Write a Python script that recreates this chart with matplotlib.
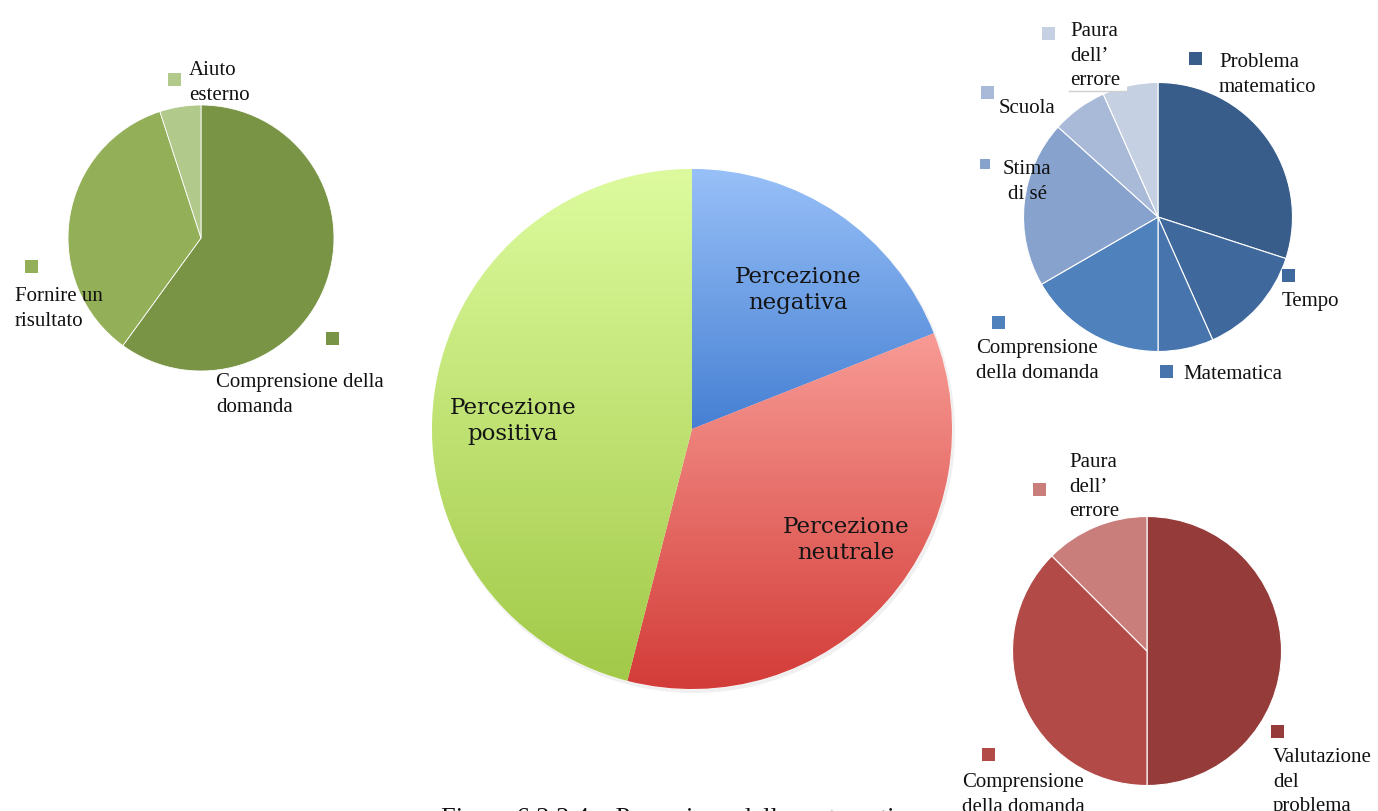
import numpy as np
import matplotlib
matplotlib.use('Agg')
import matplotlib.pyplot as plt
from matplotlib.colors import LinearSegmentedColormap
from matplotlib.patches import Rectangle, Circle

W, H = 1378, 812

# left pie (green)
green_labels = ['Comprensione della\ndomanda', 'Fornire un\nrisultato', 'Aiuto\nesterno']
green_values = [12, 7, 1]
green_colors = ['#7a9445', '#93af57', '#b1ca8b']

# central pie
mid_labels = ['Percezione\nnegativa', 'Percezione\nneutrale', 'Percezione\npositiva']
mid_values = [19, 35, 46]
mid_top = ['#98c0f8', '#f89b95', '#ddfb9e']
mid_bottom = ['#4680d3', '#d33c38', '#a2c948']

# top right pie (blue)
blue_labels = ['Problema\nmatematico', 'Tempo', 'Matematica', 'Comprensione\ndella domanda',
               'Stima\ndi sé', 'Scuola', 'Paura\ndell\u2019\nerrore']
blue_values = [9, 4, 2, 5, 6, 2, 2]
blue_colors = ['#385d8a', '#3f699d', '#4774ad', '#4f81bd', '#87a2cc', '#a9b9d8', '#c5d0e3']

# bottom right pie (red)
red_labels = ['Valutazione\ndel\nproblema', 'Comprensione\ndella domanda', 'Paura\ndell\u2019\nerrore']
red_values = [8, 6, 2]
red_colors = ['#953b39', '#b24b48', '#c97e7c']

caption = 'Figura 6.2.3.4 \u2013 Percezione della matematica'

SERIF = 'Liberation Serif'
FS = 15            # legend text size in pt
FS_PX = FS * 100 / 72


def py(y):
    # pixel row (from top) -> data y
    return H - y


fig = plt.figure(figsize=(W / 100, H / 100), dpi=100)
ax = fig.add_axes([0, 0, 1, 1])


def draw_pie(values, colors, cx, cy, r, lw=0.8):
    wedges, _ = ax.pie(values, colors=colors, startangle=90, counterclock=False,
                       center=(cx, py(cy)), radius=r,
                       wedgeprops=dict(edgecolor='white', linewidth=lw))
    return wedges


def key(text, color, sq, tx, base, size=13, ha='left', ls=1.42):
    x0, y0 = sq
    ax.add_patch(Rectangle((x0, py(y0 + size)), size, size, facecolor=color,
                           edgecolor='none', zorder=3))
    ax.text(tx, py(base - 0.69 * FS_PX), text, ha=ha, va='top', multialignment=ha,
            fontsize=FS, family=SERIF, color='#111111', linespacing=ls, zorder=4)


# green pie
draw_pie(green_values, green_colors, 201, 239, 133, lw=0.6)
key(green_labels[0], green_colors[0], (326, 333), 216, 387)
key(green_labels[1], green_colors[1], (25, 261), 15, 301)
key(green_labels[2], green_colors[2], (168, 74), 189, 75)

# central pie with vertical gradients
ax.add_patch(Circle((694, py(433)), 261, facecolor='#000000', alpha=0.06,
                    edgecolor='none', zorder=0.5))
mid_wedges = draw_pie(mid_values, mid_top, 692, 430, 260, lw=0.5)
grad = np.linspace(0, 1, 256).reshape(-1, 1)
for w, c_top, c_bot in zip(mid_wedges, mid_top, mid_bottom):
    bb = w.get_path().get_extents()
    cmap = LinearSegmentedColormap.from_list('grad', [c_bot, c_top])
    im = ax.imshow(grad, cmap=cmap, origin='lower', aspect='auto',
                   extent=(bb.x0, bb.x1, bb.y0, bb.y1), zorder=1.5)
    im.set_clip_path(w)

mid_pos = [(798, 283), (846, 533), (513, 414)]
for lab, (tx, base) in zip(mid_labels, mid_pos):
    ax.text(tx, py(base - 0.74 * 16.5 * 100 / 72), lab, ha='center', va='top',
            multialignment='center', fontsize=16.5, family='DejaVu Serif',
            color='#141414', linespacing=1.25, zorder=4)

# blue pie
draw_pie(blue_values, blue_colors, 1158, 218, 134.5)
ax.add_patch(Rectangle((1069, py(92)), 58, 10, facecolor='white', edgecolor='none', zorder=2.5))
ax.plot([1069, 1127], [py(92), py(92)], color='#cfcfcf', lw=1, zorder=2.6)
key(blue_labels[0], blue_colors[0], (1189, 53), 1219, 67)
key(blue_labels[1], blue_colors[1], (1282, 270), 1282, 306)
key(blue_labels[2], blue_colors[2], (1160, 366), 1183, 379)
key(blue_labels[3], blue_colors[3], (992, 317), 976, 353)
key(blue_labels[4], blue_colors[4], (980, 160), 1027, 174, size=10, ha='center')
key(blue_labels[5], blue_colors[5], (981, 87), 999, 113)
key(blue_labels[6], blue_colors[6], (1042, 28), 1070, 36)

# red pie
draw_pie(red_values, red_colors, 1147, 652, 134.5)
key(red_labels[0], red_colors[0], (1271, 726), 1273, 762)
key(red_labels[1], red_colors[1], (982, 749), 962, 787)
key(red_labels[2], red_colors[2], (1033, 484), 1069, 467)

# caption, mostly below the bottom edge
ax.text(441, py(808), caption, ha='left', va='top', fontsize=19, family=SERIF,
        color='#111111', clip_on=False)

ax.set_xlim(0, W)
ax.set_ylim(0, H)
ax.set_aspect('auto')
ax.axis('off')

fig.savefig('out.png', dpi=100, facecolor='white')
